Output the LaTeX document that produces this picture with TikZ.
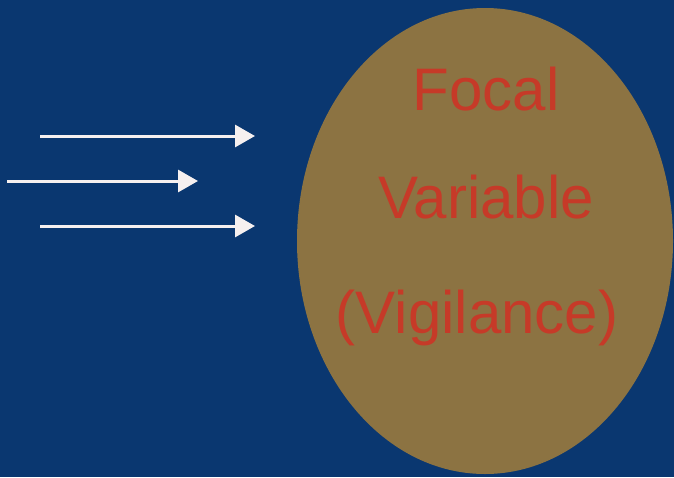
\documentclass[tikz,border=0pt]{standalone}
\usepackage{xcolor}
\usepackage{fontspec}
\setmainfont{Liberation Sans}
\usetikzlibrary{arrows.meta}

\definecolor{slideblue}{RGB}{10,55,112}
\definecolor{focaltan}{RGB}{140,115,66}
\definecolor{focalred}{RGB}{198,58,40}
\definecolor{cuewhite}{RGB}{246,240,240}

\begin{document}
\begin{tikzpicture}[x=1pt, y=-1pt,
    cue/.style={line width=3pt, cuewhite, -{Triangle[length=20pt, width=22pt]}},
    focaltext/.style={text=focalred, font=\fontsize{60}{62}\selectfont, anchor=base, inner sep=0pt}]
  % Background
  \useasboundingbox (0,0) rectangle (674,477);
  \fill[slideblue] (0,0) rectangle (674,477);

  % Focal variable
  \fill[focaltan] (485,241) ellipse [x radius=188, y radius=233];
  \node[focaltext] (focal)     at (486,110) {Focal};
  \node[focaltext] (variable)  at (486,218) {Variable};
  \node[focaltext] (vigilance) at (477,333) {(Vigilance)};

  % Incoming arrows
  \coordinate (cueA start) at (40,136);
  \coordinate (cueA end)   at (255,136);
  \coordinate (cueB start) at (7,181);
  \coordinate (cueB end)   at (198,181);
  \coordinate (cueC start) at (40,226);
  \coordinate (cueC end)   at (255,226);
  \draw[cue] (cueA start) -- (cueA end);
  \draw[cue] (cueB start) -- (cueB end);
  \draw[cue] (cueC start) -- (cueC end);
\end{tikzpicture}
\end{document}
